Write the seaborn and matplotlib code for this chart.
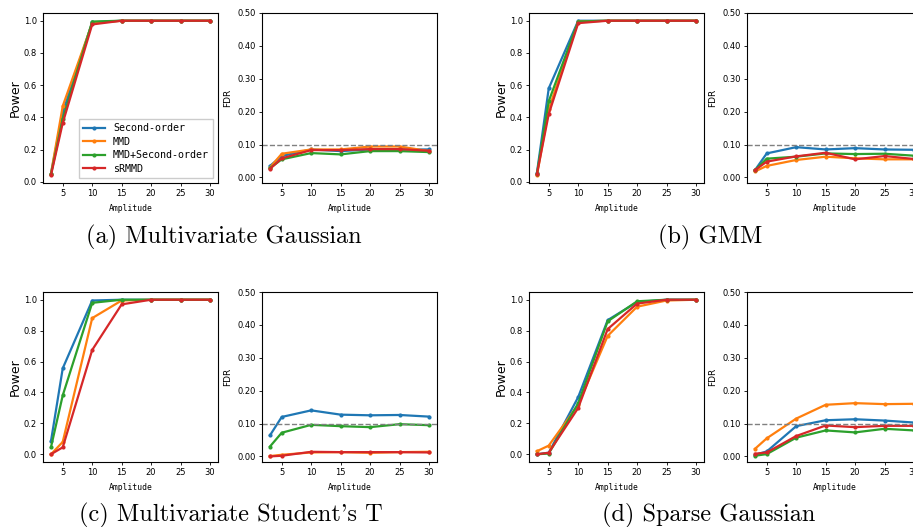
import pandas as pd
import matplotlib.pyplot as plt
import seaborn as sns

# amplitudes shared by every panel
amplitude = [3, 5, 10, 15, 20, 25, 30]
methods = ["Second-order", "MMD", "MMD+Second-order", "sRMMD"]
colors = ["#1f77b4", "#ff7f0e", "#2ca02c", "#d62728"]

# (a) Multivariate Gaussian
power_a = {
    "Second-order":     [0.05, 0.43, 0.99, 1.0, 1.0, 1.0, 1.0],
    "MMD":              [0.05, 0.47, 0.985, 1.0, 1.0, 1.0, 1.0],
    "MMD+Second-order": [0.045, 0.39, 0.995, 1.0, 1.0, 1.0, 1.0],
    "sRMMD":            [0.04, 0.365, 0.977, 1.0, 1.0, 1.0, 1.0],
}
fdr_a = {
    "Second-order":     [0.035, 0.065, 0.085, 0.080, 0.085, 0.085, 0.085],
    "MMD":              [0.030, 0.072, 0.085, 0.085, 0.094, 0.094, 0.080],
    "MMD+Second-order": [0.028, 0.055, 0.074, 0.070, 0.080, 0.080, 0.077],
    "sRMMD":            [0.026, 0.058, 0.083, 0.083, 0.086, 0.086, 0.081],
}

# (b) GMM
power_b = {
    "Second-order":     [0.056, 0.58, 1.0, 1.0, 1.0, 1.0, 1.0],
    "MMD":              [0.04, 0.45, 0.995, 1.0, 1.0, 1.0, 1.0],
    "MMD+Second-order": [0.05, 0.50, 0.995, 1.0, 1.0, 1.0, 1.0],
    "sRMMD":            [0.048, 0.42, 0.985, 1.0, 1.0, 1.0, 1.0],
}
fdr_b = {
    "Second-order":     [0.022, 0.073, 0.092, 0.085, 0.089, 0.085, 0.084],
    "MMD":              [0.018, 0.035, 0.053, 0.063, 0.058, 0.055, 0.055],
    "MMD+Second-order": [0.022, 0.057, 0.063, 0.073, 0.071, 0.072, 0.066],
    "sRMMD":            [0.022, 0.048, 0.064, 0.075, 0.055, 0.065, 0.056],
}

# (c) Multivariate Student's T
power_c = {
    "Second-order":     [0.084, 0.556, 0.995, 1.0, 1.0, 1.0, 1.0],
    "MMD":              [0.0, 0.08, 0.881, 0.995, 1.0, 1.0, 1.0],
    "MMD+Second-order": [0.045, 0.381, 0.98, 1.0, 1.0, 1.0, 1.0],
    "sRMMD":            [0.0, 0.045, 0.675, 0.97, 1.0, 1.0, 1.0],
}
fdr_c = {
    "Second-order":     [0.064, 0.120, 0.140, 0.127, 0.125, 0.126, 0.121],
    "MMD":              [0.001, 0.005, 0.012, 0.013, 0.011, 0.013, 0.014],
    "MMD+Second-order": [0.030, 0.072, 0.096, 0.092, 0.089, 0.098, 0.095],
    "sRMMD":            [0.000, 0.002, 0.014, 0.013, 0.013, 0.013, 0.012],
}

# (d) Sparse Gaussian
power_d = {
    "Second-order":     [0.0, 0.01, 0.37, 0.868, 0.985, 1.0, 1.0],
    "MMD":              [0.02, 0.056, 0.32, 0.766, 0.955, 0.995, 1.0],
    "MMD+Second-order": [0.0, 0.005, 0.33, 0.86, 0.99, 1.0, 1.0],
    "sRMMD":            [0.0, 0.01, 0.30, 0.81, 0.975, 1.0, 1.0],
}
fdr_d = {
    "Second-order":     [0.005, 0.015, 0.092, 0.110, 0.113, 0.109, 0.103],
    "MMD":              [0.023, 0.055, 0.115, 0.157, 0.162, 0.159, 0.160],
    "MMD+Second-order": [0.002, 0.007, 0.057, 0.079, 0.073, 0.084, 0.079],
    "sRMMD":            [0.008, 0.012, 0.062, 0.094, 0.089, 0.093, 0.093],
}

panels = [
    ("(a) Multivariate Gaussian", power_a, fdr_a),
    ("(b) GMM", power_b, fdr_b),
    ("(c) Multivariate Student's T", power_c, fdr_c),
    ("(d) Sparse Gaussian", power_d, fdr_d),
]

W, H = 913, 527
fig = plt.figure(figsize=(W / 100, H / 100), dpi=100)

# pixel positions of the axes (left, top) for power / fdr
power_left = [43, 529, 43, 529]
fdr_left = [262, 747, 262, 747]
tops = [13, 13, 292, 292]
ax_w, ax_h = 175, 170
caption_pos = [(224, 237), (710, 237), (231, 515), (709, 515)]


def make_ax(left, top):
    return fig.add_axes([left / W, 1 - (top + ax_h) / H, ax_w / W, ax_h / H])


def draw(ax, data):
    for m, c in zip(methods, colors):
        sns.lineplot(x=amplitude, y=data[m], ax=ax, color=c, label=m,
                     marker="o", markersize=3, markeredgewidth=0,
                     linewidth=1.6, legend=False)
    ax.set_xticks([5, 10, 15, 20, 25, 30])
    ax.set_xlabel("Amplitude", fontsize=5.8, family="DejaVu Sans Mono")
    ax.tick_params(labelsize=6, length=2.5, width=0.6, pad=2)


for i, (caption, pw, fd) in enumerate(panels):
    ax1 = make_ax(power_left[i], tops[i])
    draw(ax1, pw)
    ax1.set_ylabel("Power", fontsize=9, labelpad=1)
    ax1.set_yticks([0.0, 0.2, 0.4, 0.6, 0.8, 1.0])

    ax2 = make_ax(fdr_left[i], tops[i])
    draw(ax2, fd)
    ax2.axhline(0.1, color="gray", linestyle="--", linewidth=1)
    ax2.set_ylim(-0.017, 0.5)
    ax2.set_yticks([0.0, 0.1, 0.2, 0.3, 0.4, 0.5])
    ax2.set_yticklabels(["0.00", "0.10", "0.20", "0.30", "0.40", "0.50"])
    ax2.set_ylabel("FDR", fontsize=6.5)

    if i == 0:
        ax1.legend(loc="lower right", prop={"family": "DejaVu Sans Mono", "size": 7.2},
                   handlelength=2.2, borderpad=0.4, labelspacing=0.35,
                   fancybox=False, framealpha=1)

    cx, cy = caption_pos[i]
    fig.text(cx / W, 1 - cy / H, caption, ha="center", va="center",
             fontsize=17.5, family="cmr10")

fig.savefig("out.png", dpi=100)
